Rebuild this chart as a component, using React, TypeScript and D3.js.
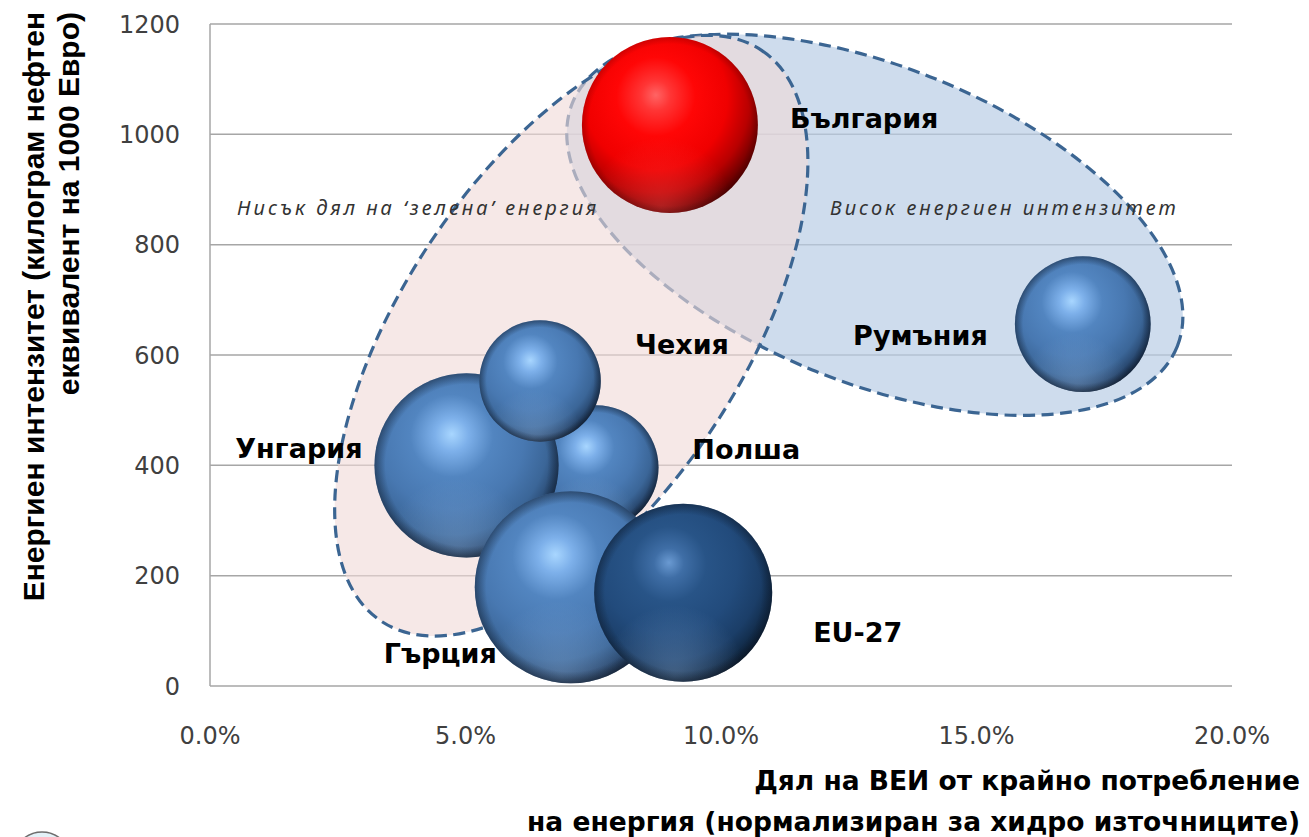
import * as d3 from "d3";

// data
const countries = ["България", "Румъния", "Полша", "Унгария", "Чехия", "Гърция", "EU-27"];
const resShare = [0.09, 0.1708, 0.0756, 0.0502, 0.0646, 0.0706, 0.0926];
const energyIntensity = [1017, 656, 396, 400, 553, 179, 169];
const bubbleSize = [84, 50, 42, 92, 40, 100, 86];

const xTicks = [0, 0.05, 0.1, 0.15, 0.2];
const yTicks = [0, 200, 400, 600, 800, 1000, 1200];

const yTitle = ["Енергиен интензитет (килограм нефтен", "еквивалент на 1000 Евро)"];
const xTitle = ["Дял на ВЕИ от крайно потребление", "на енергия (нормализиран за хидро източниците)"];
const groupNotes = ["Нисък дял на ‘зелена’ енергия", "Висок енергиен интензитет"];

// label placement relative to bubble centre (px)
const labelOffsets = {
	"България": { dx: 120, dy: 3, anchor: "start" },
	"Румъния": { dx: -95, dy: 21, anchor: "end" },
	"Полша": { dx: 96, dy: -9, anchor: "start" },
	"Унгария": { dx: -104, dy: -7, anchor: "end" },
	"Чехия": { dx: 95, dy: -27, anchor: "start" },
	"Гърция": { dx: -74, dy: 76, anchor: "end" },
	"EU-27": { dx: 130, dy: 49, anchor: "start" },
};

const bubbleFill = (name) =>
	name === "България" ? "url(#sphRed)" : name === "EU-27" ? "url(#sphDark)" : "url(#sphBlue)";

const width = 1309;
const height = 837;
const margin = { top: 24, right: 77, bottom: 151, left: 210 };

export default function App() {
	const x = d3.scaleLinear().domain([0, 0.2]).range([margin.left, width - margin.right]);
	const y = d3.scaleLinear().domain([0, 1200]).range([height - margin.bottom, margin.top]);
	const r = d3.scaleSqrt().domain([0, 100]).range([0, 96]);
	const fmt = d3.format(".1%");

	const rows = countries.map((name, i) => ({
		name,
		x: resShare[i],
		y: energyIntensity[i],
		size: bubbleSize[i],
	}));

	const grid = "#a6a6a6";
	const dash = "#3b6592";

	return (
		<svg
			width={width}
			height={height}
			style={{ position: "absolute", left: 0, top: 0, background: "#fff" }}
		>
			<defs>
				<radialGradient id="sphBlue" cx="0.42" cy="0.36" r="0.7" fx="0.42" fy="0.33">
					<stop offset="0" stopColor="#a8d6ff" />
					<stop offset="0.13" stopColor="#7db0ea" />
					<stop offset="0.32" stopColor="#5285c0" />
					<stop offset="0.56" stopColor="#4878b1" />
					<stop offset="0.75" stopColor="#3b6698" />
					<stop offset="0.88" stopColor="#26446a" />
					<stop offset="1" stopColor="#0e1828" />
				</radialGradient>
				<radialGradient id="sphDark" cx="0.42" cy="0.36" r="0.7" fx="0.42" fy="0.33">
					<stop offset="0" stopColor="#6a9ad2" />
					<stop offset="0.12" stopColor="#3f6ea6" />
					<stop offset="0.3" stopColor="#285487" />
					<stop offset="0.55" stopColor="#224b7c" />
					<stop offset="0.75" stopColor="#1b3e68" />
					<stop offset="0.88" stopColor="#112a47" />
					<stop offset="1" stopColor="#060d18" />
				</radialGradient>
				<radialGradient id="sphRed" cx="0.42" cy="0.36" r="0.7" fx="0.42" fy="0.33">
					<stop offset="0" stopColor="#ff6464" />
					<stop offset="0.12" stopColor="#ff3535" />
					<stop offset="0.32" stopColor="#ff0606" />
					<stop offset="0.58" stopColor="#f00000" />
					<stop offset="0.76" stopColor="#b80000" />
					<stop offset="0.9" stopColor="#680000" />
					<stop offset="1" stopColor="#2e0000" />
				</radialGradient>
				<radialGradient id="rimLight" cx="0.45" cy="0.97" r="0.4">
					<stop offset="0" stopColor="#a6c8f0" stopOpacity="0.32" />
					<stop offset="1" stopColor="#a6c8f0" stopOpacity="0" />
				</radialGradient>
				<radialGradient id="rimRed" cx="0.45" cy="0.97" r="0.4">
					<stop offset="0" stopColor="#ff5050" stopOpacity="0.4" />
					<stop offset="1" stopColor="#ff5050" stopOpacity="0" />
				</radialGradient>
				<radialGradient id="edgeShade" cx="0.5" cy="0.5" r="0.5">
					<stop offset="0.88" stopColor="#0a1422" stopOpacity="0" />
					<stop offset="1" stopColor="#0a1422" stopOpacity="0.45" />
				</radialGradient>
				<radialGradient id="edgeShadeRed" cx="0.5" cy="0.5" r="0.5">
					<stop offset="0.92" stopColor="#300000" stopOpacity="0" />
					<stop offset="1" stopColor="#300000" stopOpacity="0.2" />
				</radialGradient>
			</defs>

			{/* gridlines */}
			{yTicks.map((t) => (
				<line
					key={"g" + t}
					x1={margin.left}
					x2={width - margin.right}
					y1={y(t)}
					y2={y(t)}
					stroke={grid}
					strokeWidth={1.5}
				/>
			))}
			<line x1={margin.left} x2={margin.left} y1={y(0)} y2={y(1200)} stroke={grid} strokeWidth={1.5} />

			{/* group outlines */}
			<ellipse
				cx={x(0.1301)}
				cy={y(836)}
				rx={326}
				ry={158}
				transform={`rotate(21.95 ${x(0.1301)} ${y(836)})`}
				fill="rgb(185,205,229)"
				fillOpacity={0.7}
				stroke={dash}
				strokeWidth={3.2}
				strokeDasharray="12 6.5"
			/>
			<ellipse
				cx={x(0.0707)}
				cy={y(635)}
				rx={343}
				ry={169}
				transform={`rotate(-56.3 ${x(0.0707)} ${y(635)})`}
				fill="rgb(240,218,216)"
				fillOpacity={0.62}
				stroke={dash}
				strokeWidth={3.2}
				strokeDasharray="12 6.5"
			/>

			{groupNotes.map((note, i) => (
				<text
					key={"n" + i}
					x={i === 0 ? 237 : 830}
					y={215}
					lang="bg"
					fontFamily="'Noto Sans', 'DejaVu Sans'"
					fontStyle="italic"
					fontSize={20}
					letterSpacing={3}
					fill="#333"
				>
					{note}
				</text>
			))}

			{/* bubbles */}
			{rows.map((d) => {
				const red = d.name === "България";
				return (
					<g key={d.name}>
						<circle cx={x(d.x)} cy={y(d.y)} r={r(d.size)} fill={bubbleFill(d.name)} />
						<circle
							cx={x(d.x)}
							cy={y(d.y)}
							r={r(d.size)}
							fill={red ? "url(#rimRed)" : "url(#rimLight)"}
						/>
						<circle
							cx={x(d.x)}
							cy={y(d.y)}
							r={r(d.size)}
							fill={red ? "url(#edgeShadeRed)" : "url(#edgeShade)"}
						/>
					</g>
				);
			})}

			{/* bubble labels */}
			{rows.map((d) => {
				const o = labelOffsets[d.name];
				return (
					<text
						key={"l" + d.name}
						x={x(d.x) + o.dx}
						y={y(d.y) + o.dy}
						textAnchor={o.anchor}
						fontFamily="DejaVu Sans"
						fontWeight="bold"
						fontSize={27}
						fill="#000"
					>
						{d.name}
					</text>
				);
			})}

			{/* y tick labels */}
			{yTicks.map((t) => (
				<text
					key={"y" + t}
					x={180}
					y={y(t) + 8.5}
					textAnchor="end"
					fontFamily="DejaVu Sans"
					fontSize={24}
					fill="#404040"
				>
					{t}
				</text>
			))}
			{/* x tick labels */}
			{xTicks.map((t) => (
				<text
					key={"x" + t}
					x={x(t)}
					y={744}
					textAnchor="middle"
					fontFamily="DejaVu Sans"
					fontSize={24}
					fill="#404040"
				>
					{fmt(t)}
				</text>
			))}

			{/* axis titles */}
			{yTitle.map((line, i) => (
				<text
					key={"yt" + i}
					transform={`translate(${44 + i * 35}, 12) rotate(-90)`}
					textAnchor="end"
					fontFamily="Liberation Sans"
					fontWeight="bold"
					fontSize={30}
					fill="#000"
				>
					{line}
				</text>
			))}
			{xTitle.map((line, i) => (
				<text
					key={"xt" + i}
					x={1300}
					y={790 + i * 41}
					textAnchor="end"
					fontFamily="DejaVu Sans"
					fontWeight="bold"
					fontSize={26.5}
					fill="#000"
				>
					{line}
				</text>
			))}

			{/* corner logo fragment */}
			<circle cx={42} cy={861} r={29} fill="#e3f2f8" stroke="#6d6d6d" strokeWidth={1.5} />
		</svg>
	);
}
